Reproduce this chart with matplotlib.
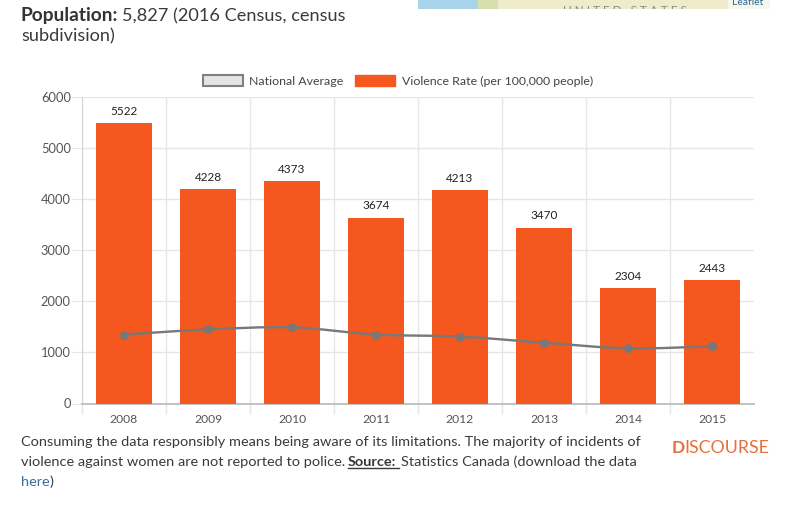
#!/usr/bin/env python3
"""Violence rate bars with the national average line, plus the page text around the chart."""

import matplotlib
matplotlib.use("Agg")
import matplotlib.pyplot as plt
from matplotlib.patches import Patch, PathPatch, Rectangle
from matplotlib.path import Path
from matplotlib.transforms import Bbox, TransformedBbox

YEARS = ["2008", "2009", "2010", "2011", "2012", "2013", "2014", "2015"]
VIOLENCE_RATE = [5490, 4200, 4350, 3640, 4180, 3445, 2265, 2420]
BAR_LABELS = ["5522", "4228", "4373", "3674", "4213", "3470", "2304", "2443"]
NATIONAL_AVERAGE = [1350, 1450, 1490, 1350, 1310, 1190, 1080, 1120]
Y_TICKS = [0, 1000, 2000, 3000, 4000, 5000, 6000]

ORANGE = "#f4581e"
LINE_GRAY = "#787878"
GRID = "#e6e6e6"
TEXT = "#3a3a3a"
W, H = 800, 509
BODY_SIZE = 10.42

plt.rcParams["font.family"] = ["Lato", "DejaVu Sans"]


def page_text(fig, x, y, s, **kw):
    """Place text on the figure using pixel coordinates from the top left."""
    kw.setdefault("color", TEXT)
    kw.setdefault("va", "baseline")
    return fig.text(x / W, 1 - y / H, s, **kw)


def map_block(fig, x0, x1, color):
    fig.add_artist(Rectangle((x0 / W, 1 - 8.5 / H), (x1 - x0) / W, 8.5 / H,
                             transform=fig.transFigure, facecolor=color, edgecolor="none"))


def smooth_path(xs, ys):
    """Bezier path through the points, with a slight tension."""
    verts = [(xs[0], ys[0])]
    codes = [Path.MOVETO]
    n = len(xs)
    for i in range(n - 1):
        x0, y0 = (xs[i - 1], ys[i - 1]) if i > 0 else (xs[i], ys[i])
        x3, y3 = (xs[i + 2], ys[i + 2]) if i + 2 < n else (xs[i + 1], ys[i + 1])
        c1 = (xs[i] + (xs[i + 1] - x0) / 6, ys[i] + (ys[i + 1] - y0) / 6)
        c2 = (xs[i + 1] - (x3 - xs[i]) / 6, ys[i + 1] - (y3 - ys[i]) / 6)
        verts += [c1, c2, (xs[i + 1], ys[i + 1])]
        codes += [Path.CURVE4] * 3
    return Path(verts, codes)


fig = plt.figure(figsize=(W / 100, H / 100), dpi=100, facecolor="white")
ax = fig.add_axes([82 / W, 1 - 403.5 / H, (754 - 82) / W, (403.5 - 97) / H])

x = list(range(len(YEARS)))
ax.bar(x, VIOLENCE_RATE, width=0.67, color=ORANGE, zorder=3)
ax.add_patch(PathPatch(smooth_path(x, NATIONAL_AVERAGE), fill=False,
                       edgecolor=LINE_GRAY, linewidth=1.7, zorder=4))
ax.plot(x, NATIONAL_AVERAGE, linestyle="none", marker="o", markersize=5.5,
        color=LINE_GRAY, zorder=5)

for xi, h, label in zip(x, VIOLENCE_RATE, BAR_LABELS):
    ax.annotate(label, (xi, h), xytext=(0, 4.5), textcoords="offset points",
                ha="center", va="bottom", fontsize=8.5, color="#222222")

ax.set_xlim(-0.5, len(YEARS) - 0.5)
ax.set_ylim(0, 6000)
ax.set_yticks(Y_TICKS)
# gridlines sit on the left edge of each band, none at the far right
ax.set_xticks([i - 0.5 for i in range(len(YEARS))])
ax.set_xticklabels([])
ax.set_xticks(x, minor=True)
ax.set_xticklabels(YEARS, minor=True)
ax.tick_params(axis="x", which="major", length=7, color=GRID, width=1)
ax.tick_params(axis="x", which="minor", length=0, pad=7.5, labelsize=8.7, labelcolor="#555555")
ax.tick_params(axis="y", length=7, color=GRID, pad=1, labelsize=9.3, labelcolor="#555555")
ax.grid(True, which="major", color=GRID, linewidth=1, zorder=0)
ax.set_axisbelow(True)
for side in ("top", "right"):
    ax.spines[side].set_visible(False)
ax.spines["left"].set_color("#d4d4d4")
ax.spines["bottom"].set_color("#c2c2c2")
ax.spines["bottom"].set_linewidth(1.4)

handles = [Patch(facecolor="#e4e4e4", edgecolor="#808080", linewidth=1.5, label="National Average"),
           Patch(facecolor=ORANGE, edgecolor=ORANGE, label="Violence Rate (per 100,000 people)")]
ax.legend(handles=handles, ncol=2, frameon=False, loc="center",
          bbox_to_anchor=((398 - 82) / (754 - 82), 1 + 16 / 306.5), fontsize=8.9,
          handlelength=3.2, handleheight=1.0, handletextpad=0.55, columnspacing=0.95,
          labelcolor="#444444", borderaxespad=0, borderpad=0)

# page text around the chart
page_text(fig, 21, 21, "Population:", fontsize=13.8, fontweight="bold", color="#333333")
page_text(fig, 122, 21, "5,827 (2016 Census, census", fontsize=13.1)
page_text(fig, 21, 41, "subdivision)", fontsize=13.1)
page_text(fig, 21, 446, "Consuming the data responsibly means being aware of its limitations. "
          "The majority of incidents of", fontsize=BODY_SIZE)
page_text(fig, 21, 466, "violence against women are not reported to police.", fontsize=BODY_SIZE)
page_text(fig, 348, 466, "Source:", fontsize=BODY_SIZE, fontweight="bold")
fig.add_artist(plt.Line2D([348 / W, 399 / W], [1 - 468 / H] * 2, color=TEXT, linewidth=1))
page_text(fig, 401, 466, "Statistics Canada (download the data", fontsize=BODY_SIZE)
page_text(fig, 21, 486, "here", fontsize=BODY_SIZE, color="#3f6a9c")
page_text(fig, 50, 486, ")", fontsize=BODY_SIZE)
page_text(fig, 672, 453, "D", fontsize=12.5, fontweight="bold", color="#e8703a")
page_text(fig, 684, 453, "ISCOURSE", fontsize=12.8, color="#e8703a")

# strip of the map at the top of the page
map_block(fig, 418, 478, "#a9d3ea")
map_block(fig, 478, 498, "#d6dfae")
map_block(fig, 498, 728, "#efeccb")
map_block(fig, 728, 770, "#f8f7ee")
label = page_text(fig, 563, 13.5, "U N I T E D   S T A T E S", fontsize=8.5, color="#888888")
label.set_clip_box(TransformedBbox(Bbox([[0, 1 - 8.5 / H], [1, 1]]), fig.transFigure))
label.set_clip_on(True)
page_text(fig, 732, 5, "Leaflet", fontsize=7.5, color="#2d6a94")

fig.savefig("out.png", dpi=100)
